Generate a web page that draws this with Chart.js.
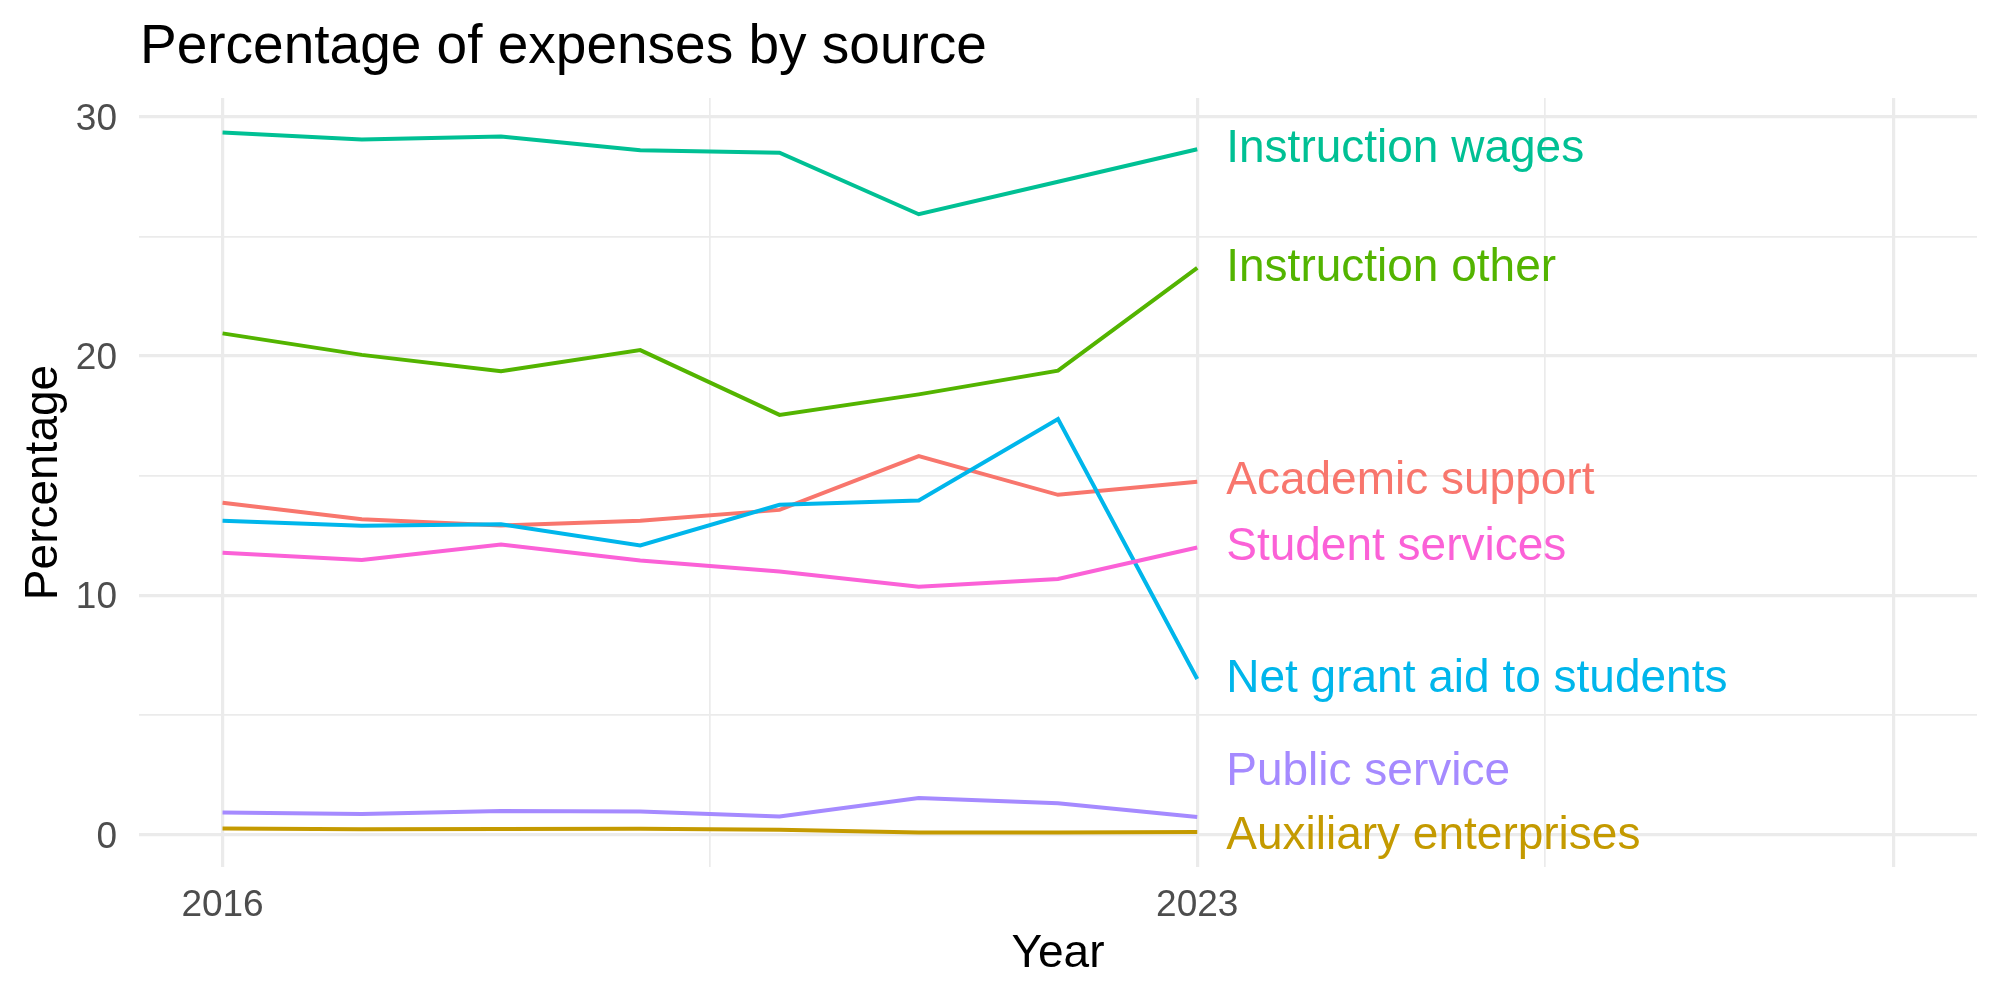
<!DOCTYPE html>
<html lang="en">
<head>
  <meta charset="UTF-8">
  <title>Percentage of expenses by source</title>
  <style>
    html, body { margin: 0; padding: 0; background: #fff; }
    #chart { display: block; }
  </style>
</head>
<body>
  <canvas id="chart" width="2000" height="1000"></canvas>

  <script src="https://cdn.jsdelivr.net/npm/chart.js"></script>
  <script>
    const years = [2016, 2017, 2018, 2019, 2020, 2021, 2022, 2023];
    const sources = ["Academic support", "Auxiliary enterprises", "Instruction other", "Instruction wages",
                     "Net grant aid to students", "Public service", "Student services"];
    const academicSupport = [13.87, 13.18, 12.92, 13.12, 13.57, 15.82, 14.2, 14.75];
    const auxiliaryEnterprises = [0.25, 0.22, 0.23, 0.24, 0.2, 0.08, 0.08, 0.1];
    const instructionOther = [20.95, 20.05, 19.37, 20.25, 17.54, 18.4, 19.39, 23.69];
    const instructionWages = [29.35, 29.06, 29.18, 28.61, 28.5, 25.93, 27.29, 28.65];
    const netGrantAid = [13.12, 12.91, 12.97, 12.08, 13.78, 13.96, 17.37, 6.5];
    const publicService = [0.92, 0.86, 0.98, 0.96, 0.75, 1.52, 1.31, 0.73];
    const studentServices = [11.78, 11.48, 12.12, 11.45, 10.99, 10.36, 10.68, 12.0];
    // where each end label sits (some were pushed apart)
    const labelY = [14.75, -0.08, 23.69, 28.65, 6.5, 2.58, 12.0];
    const xBreaks = [2016, 2019.5, 2023, 2025.5, 2028];
    const xLabels = [2016, 2023];
    const yBreaks = [0, 5, 10, 15, 20, 25, 30];
    const colors = ["#F8766D", "#C49A00", "#53B400", "#00C094", "#00B6EB", "#A58AFF", "#FB61D7"];

    const series = [academicSupport, auxiliaryEnterprises, instructionOther, instructionWages,
                    netGrantAid, publicService, studentServices];
    const FONT = "'Liberation Sans', Arial, Helvetica, sans-serif";

    const textPlugin = {
      id: "ggtext",
      afterDraw(chart) {
        const ctx = chart.ctx;
        const area = chart.chartArea;
        const xs = chart.scales.x, ys = chart.scales.y;
        ctx.save();
        // title
        ctx.fillStyle = "#000";
        ctx.font = "55px " + FONT;
        ctx.textAlign = "left";
        ctx.textBaseline = "alphabetic";
        ctx.fillText("Percentage of expenses by source", area.left + 1, 63);
        // axis titles
        ctx.font = "46px " + FONT;
        ctx.textAlign = "center";
        ctx.fillText("Year", (area.left + area.right) / 2, 967);
        ctx.translate(57, (area.top + area.bottom) / 2);
        ctx.rotate(-Math.PI / 2);
        ctx.fillText("Percentage", 0, 0);
        ctx.restore();

        // end labels
        ctx.save();
        ctx.font = "46px " + FONT;
        ctx.textAlign = "left";
        ctx.textBaseline = "middle";
        const lastYear = years[years.length - 1];
        sources.forEach((name, i) => {
          ctx.fillStyle = colors[i];
          ctx.fillText(name, xs.getPixelForValue(lastYear) + 29, ys.getPixelForValue(labelY[i]));
        });
        ctx.restore();
      }
    };

    const datasets = sources.map((name, i) => ({
      label: name,
      data: years.map((yr, k) => ({ x: yr, y: series[i][k] })),
      borderColor: colors[i],
      backgroundColor: colors[i],
      borderWidth: 4,
      pointRadius: 0,
      fill: false,
      tension: 0,
      order: sources.length - i
    }));

    new Chart(document.getElementById("chart").getContext("2d"), {
      type: "line",
      data: { datasets: datasets },
      options: {
        responsive: false,
        devicePixelRatio: 1,
        animation: false,
        layout: { padding: { left: 0, right: 23, top: 98, bottom: 0 } },
        plugins: {
          legend: { display: false },
          tooltip: { enabled: false },
          title: { display: false }
        },
        scales: {
          x: {
            type: "linear",
            min: 2015.4,
            max: 2028.6,
            afterBuildTicks: s => { s.ticks = xBreaks.map(v => ({ value: v })); },
            afterFit: s => { s.height = 133; },
            border: { display: false },
            grid: {
              color: "#EBEBEB",
              drawTicks: false,
              lineWidth: c => (c.tick && xBreaks.indexOf(c.tick.value) % 2 === 0) ? 3.2 : 1.7
            },
            ticks: {
              autoSkip: false,
              maxRotation: 0,
              padding: 17,
              color: "#4D4D4D",
              font: { family: FONT, size: 37 },
              callback: v => xLabels.includes(v) ? String(v) : ""
            }
          },
          y: {
            type: "linear",
            min: -1.36,
            max: 30.79,
            afterBuildTicks: s => { s.ticks = yBreaks.map(v => ({ value: v })); },
            afterFit: s => { s.width = 139; },
            border: { display: false },
            grid: {
              color: "#EBEBEB",
              drawTicks: false,
              lineWidth: c => (c.tick && c.tick.value % 10 === 0) ? 3.2 : 1.7
            },
            ticks: {
              padding: 22,
              labelOffset: 3,
              color: "#4D4D4D",
              font: { family: FONT, size: 37 },
              callback: v => (v % 10 === 0) ? String(v) : ""
            }
          }
        }
      },
      plugins: [textPlugin]
    });
  </script>
</body>
</html>
